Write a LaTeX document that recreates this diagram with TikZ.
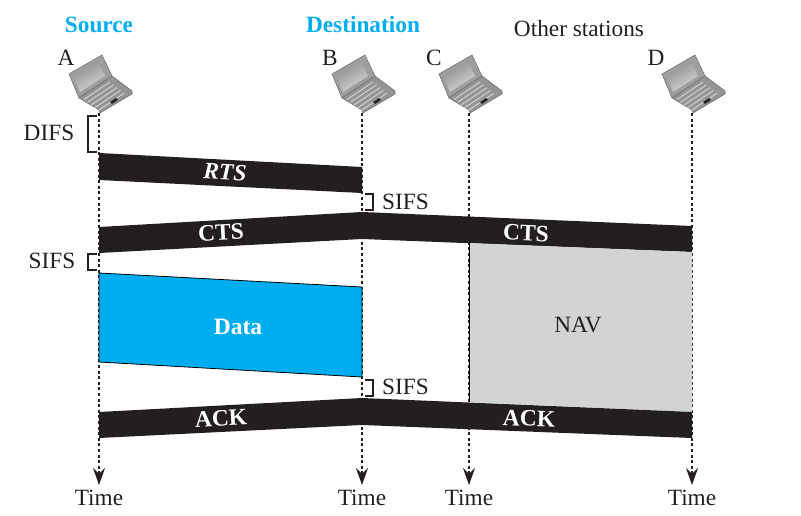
\documentclass[tikz,border=0pt]{standalone}
\usepackage{fontspec}
\setmainfont{Liberation Serif}
\usetikzlibrary{arrows.meta}
\definecolor{barblack}{HTML}{231F20}
\definecolor{srcblue}{HTML}{00AEEF}
\definecolor{navgray}{HTML}{D1D3D4}
\tikzset{
    lbl/.style={inner sep=0pt,text=barblack,font=\fontsize{23.3}{24}\selectfont},
    head/.style={inner sep=0pt,font=\fontsize{23.3}{24}\selectfont\bfseries,text=srcblue},
    barlbl/.style={inner sep=0pt,text=white,font=\fontsize{23.5}{24}\selectfont\bfseries},
    timeline/.style={line width=1.2pt,dash pattern=on 3pt off 2.6pt,barblack,-{Stealth[length=17pt,width=12pt,inset=6pt]}},
    brace/.style={line width=1.1pt,barblack},
    bar/.style={fill=barblack},
    laptop/.pic={
        \draw[fill=black!38,draw=black!55,line width=.6pt] (-30,-39) -- (3,-58) -- (13,-37) -- (-20,-15) -- cycle;
        \shade[top color=black!45,bottom color=black!15,shading angle=30] (-25,-36) -- (-1,-52) -- (6,-37) -- (-19,-21) -- cycle;
        \draw[fill=black!42,draw=black!55,line width=.6pt] (-20,-15) -- (13,-37) -- (33,-22) -- (33,-19) -- (1,0) -- (0,-3) -- cycle;
        \foreach \k in {0,1,2,3,4}
            \draw[white!82!black,line width=1pt] (-15+3.5*\k,-13.5+2.8*\k) -- (11+3.5*\k,-31+2.8*\k);
        \fill[black!85] (11,-11) -- (17,-15) -- (19,-13) -- (13,-9) -- cycle;
    }
}
\begin{document}
\begin{tikzpicture}[x=1pt,y=-1pt]
    \useasboundingbox (0,0) rectangle (801,516);

    % stations
    \coordinate (A) at (99,113);
    \coordinate (B) at (362,113);
    \coordinate (C) at (469,113);
    \coordinate (D) at (692,113);
    \pic at (A) {laptop};
    \pic at (B) {laptop};
    \pic at (C) {laptop};
    \pic at (D) {laptop};

    \node[head] (src) at (99,25) {Source};
    \node[head] (dst) at (363,25) {Destination};
    \node[lbl] (oth) at (579,29) {Other stations};
    \node[lbl] (na) at (66,58) {A};
    \node[lbl] (nb) at (330,58) {B};
    \node[lbl] (nc) at (434,58) {C};
    \node[lbl] (nd) at (656,58) {D};

    \node[lbl] (ta) at (99,498) {Time};
    \node[lbl] (tb) at (362,498) {Time};
    \node[lbl] (tc) at (469,498) {Time};
    \node[lbl] (td) at (692,498) {Time};

    \begin{scope}[shorten >=5pt]
        \path[timeline] (A) edge (ta);
        \path[timeline] (B) edge (tb);
        \path[timeline] (C) edge (tc);
        \path[timeline] (D) edge (td);
    \end{scope}

    % frames
    \fill[bar] (99,153) -- (362,167) -- (362,193) -- (99,180) -- cycle;
    \fill[bar] (99,227) -- (362,212) -- (692,226) -- (692,252) -- (362,239) -- (99,253) -- cycle;
    \draw[fill=srcblue,line width=.8pt] (99,273) -- (362,287) -- (362,377) -- (99,362) -- cycle;
    \fill[navgray] (469,243) -- (692,252) -- (692,412) -- (469,402) -- cycle;
    \draw[line width=.8pt] (469,243) -- (469,402);
    \fill[bar] (99,412) -- (362,398) -- (692,412) -- (692,438) -- (362,425) -- (99,438) -- cycle;

    \node[barlbl,rotate=-3] (rts) at (225,172) {\itshape RTS};
    \node[barlbl,rotate=3] (cts1) at (221,232.5) {CTS};
    \node[barlbl,rotate=-2.4] (cts2) at (526,233) {CTS};
    \node[barlbl] (data) at (238,326.5) {Data};
    \node[lbl] (nav) at (578,325) {NAV};
    \node[barlbl,rotate=3] (ack1) at (221,418.5) {ACK};
    \node[barlbl,rotate=-2.4] (ack2) at (529,418.5) {ACK};

    % gaps
    \draw[brace] (97,116) -- (88,116) -- (88,152) -- (97,152);
    \draw[brace] (97,254) -- (88,254) -- (88,270) -- (97,270);
    \draw[brace] (365,194) -- (373,194) -- (373,210) -- (365,210);
    \draw[brace] (365,380) -- (373,380) -- (373,396) -- (365,396);
    \node[lbl] (difs) at (49,133) {DIFS};
    \node[lbl] (sifs1) at (52,261) {SIFS};
    \node[lbl] (sifs2) at (405.5,202) {SIFS};
    \node[lbl] (sifs3) at (405.5,387) {SIFS};

\end{tikzpicture}
\end{document}
